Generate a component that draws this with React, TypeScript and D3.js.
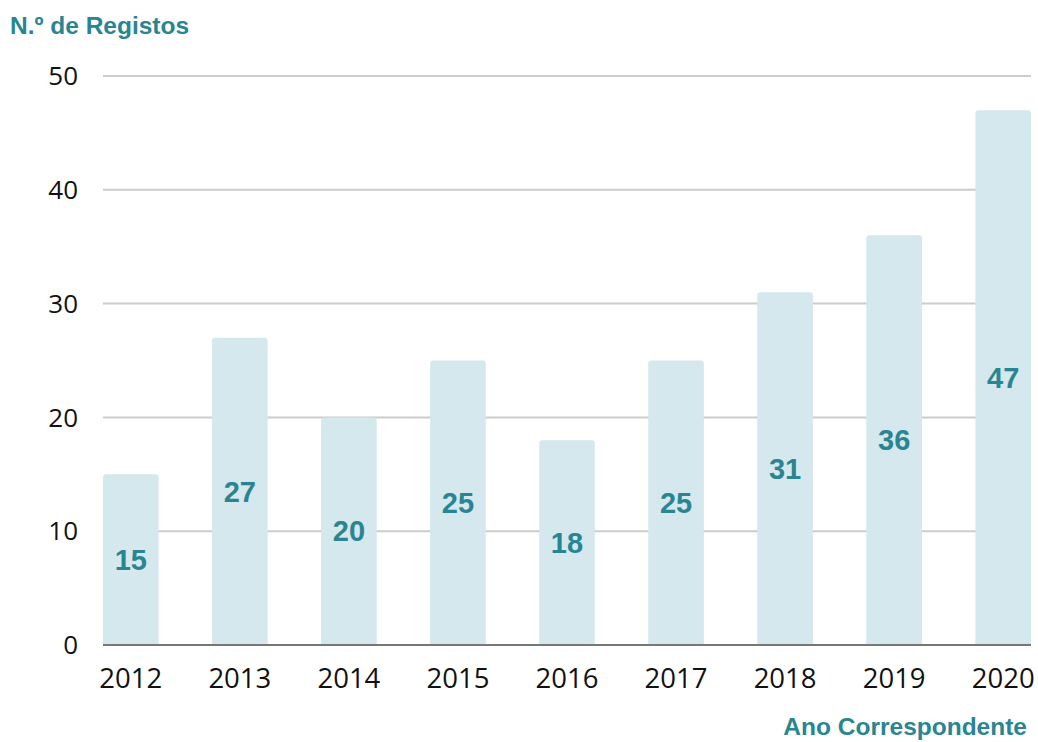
import React from "react";
import * as d3 from "d3";

const years = ["2012", "2013", "2014", "2015", "2016", "2017", "2018", "2019", "2020"];
const counts = [15, 27, 20, 25, 18, 25, 31, 36, 47];
const yTicks = [0, 10, 20, 30, 40, 50];

export default function App() {
  const W = 1038, H = 742;
  const left = 103, right = 1031, top = 76, bottom = 645;
  const x = d3.scaleBand<string>().domain(years).range([left, right]).paddingInner(0.49).paddingOuter(0);
  const y = d3.scaleLinear().domain([0, 50]).range([bottom, top]);
  const teal = "#2a8592";
  return (
    <svg width={W} height={H} style={{ position: "absolute", left: 0, top: 0 }}>
      <rect width={W} height={H} fill="#fff" />
      <text x={10} y={34} fill={teal} fontFamily="Liberation Sans, Arial, sans-serif" fontWeight="bold" fontSize={24.5}>N.º de Registos</text>
      {yTicks.map((t) => (
        <g key={t}>
          {t > 0 && <line x1={left} x2={right} y1={y(t)} y2={y(t)} stroke="#cccccc" strokeWidth={2} />}
          <text x={78} y={y(t)} dy="0.35em" textAnchor="end" fontFamily="Open Sans, sans-serif" fontSize={26} fill="#111">{t}</text>
        </g>
      ))}
      {years.map((yr, i) => {
        const bx = x(yr)!, bw = x.bandwidth();
        const by = y(counts[i]);
        const h = bottom - by;
        const r = 3;
        const path = `M${bx},${bottom} V${by + r} Q${bx},${by} ${bx + r},${by} H${bx + bw - r} Q${bx + bw},${by} ${bx + bw},${by + r} V${bottom} Z`;
        return (
          <g key={yr}>
            <path d={path} fill="#d4e8ed" />
            <text x={bx + bw / 2} y={by + h / 2} dy="0.35em" textAnchor="middle" fontFamily="Liberation Sans, Arial, sans-serif" fontWeight="bold" fontSize={29} fill={teal}>{counts[i]}</text>
            <text x={bx + bw / 2} y={688} textAnchor="middle" fontFamily="Open Sans, sans-serif" fontSize={27.5} fill="#111">{yr}</text>
          </g>
        );
      })}
      <line x1={left} x2={right} y1={bottom} y2={bottom} stroke="#777" strokeWidth={2} />
      <text x={1027} y={735} textAnchor="end" fill={teal} fontFamily="Liberation Sans, Arial, sans-serif" fontWeight="bold" fontSize={24.5}>Ano Correspondente</text>
    </svg>
  );
}
